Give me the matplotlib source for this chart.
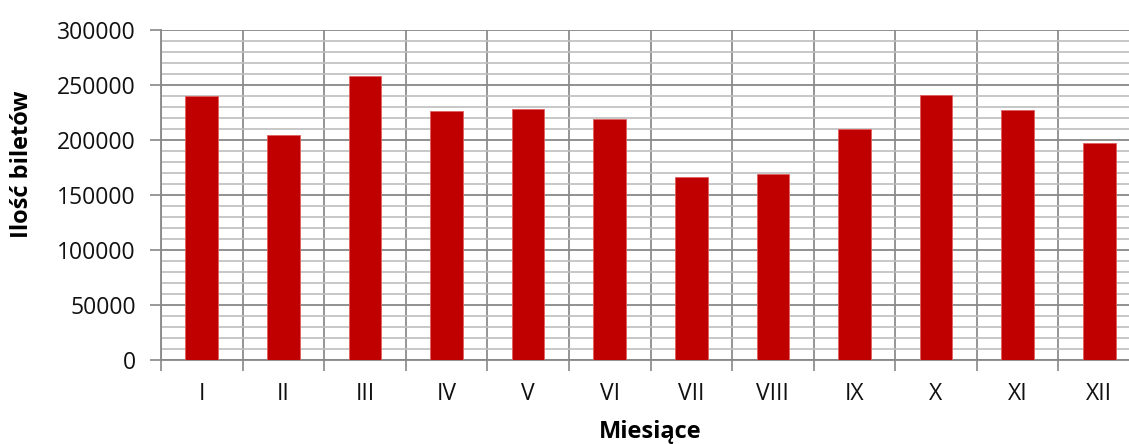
import matplotlib
matplotlib.use("Agg")
import matplotlib.pyplot as plt
import numpy as np
from matplotlib.ticker import MultipleLocator

months = ["I", "II", "III", "IV", "V", "VI", "VII", "VIII", "IX", "X", "XI", "XII"]
tickets = [240000, 204500, 258200, 226600, 227900, 219100, 166000, 169400, 210000, 240600, 227300, 197300]
y_ticks = [0, 50000, 100000, 150000, 200000, 250000, 300000]

plt.rcParams['font.family'] = ['Open Sans', 'DejaVu Sans']
FS = 16.5

fig = plt.figure(figsize=(11.29, 4.44), dpi=100)
W, H = 1129, 444
ax = fig.add_axes([161 / W, 1 - 360 / H, (1140 - 161) / W, (360 - 30) / H])

x = np.arange(len(months))
ax.bar(x, tickets, width=0.4, color="#C00000", edgecolor="#e06060", linewidth=0.6, zorder=3)

ax.set_xlim(-0.5, len(months) - 0.5)
ax.set_ylim(0, 300000)

# y grid
ax.set_yticks(y_ticks)
ax.set_yticklabels([str(v) for v in y_ticks], fontsize=FS, color="#111111")
ax.yaxis.set_minor_locator(MultipleLocator(10000))
ax.grid(which="major", axis="y", color="#888888", linewidth=1.3, zorder=1)
ax.grid(which="minor", axis="y", color="#bebebe", linewidth=1.2, zorder=0)
ax.tick_params(axis="y", which="major", length=8, width=1.2, color="#888888", direction="out", pad=10)
ax.tick_params(axis="y", which="minor", length=0)

# x: labels at centers, ticks/grid at boundaries
ax.set_xticks(x)
ax.set_xticklabels(months, fontsize=FS, color="#111111")
ax.set_xticks(np.arange(-0.5, len(months) + 0.5, 1), minor=True)
ax.tick_params(axis="x", which="major", length=0, pad=16)
ax.tick_params(axis="x", which="minor", length=8, width=1.2, color="#888888", direction="out")
ax.grid(which="minor", axis="x", color="#8c8c8c", linewidth=1.3, zorder=1)

for s in ["top", "right"]:
    ax.spines[s].set_visible(False)
for s in ["left", "bottom"]:
    ax.spines[s].set_color("#888888")
    ax.spines[s].set_linewidth(1.3)
ax.set_axisbelow(True)

ax.set_ylabel("Ilość biletów", fontsize=17, fontweight="bold")
ax.yaxis.set_label_coords((34 - 161) / (1140 - 161), (360 - 164) / 330)
ax.set_xlabel("Miesiące", fontsize=17, fontweight="bold")
ax.xaxis.set_label_coords(0.5, (360 - 420) / 330)

fig.savefig("out.png", dpi=100)
